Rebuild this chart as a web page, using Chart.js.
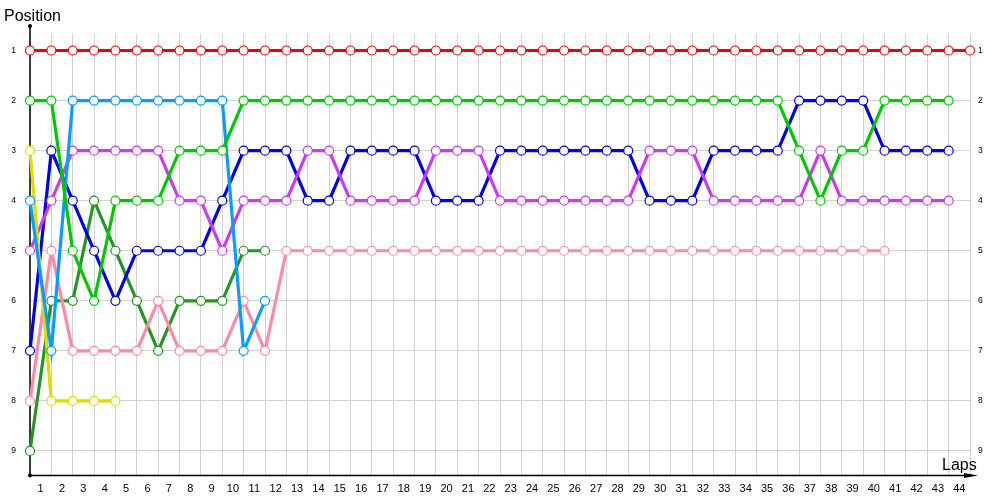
<!DOCTYPE html>
<html>
<head>
<meta charset="utf-8">
<script src="https://cdn.jsdelivr.net/npm/chart.js@4/dist/chart.umd.min.js"></script>
<style>
  html, body { margin: 0; padding: 0; background: #fff; }
  #wrap { width: 1000px; height: 500px; }
</style>
</head>
<body>
<div id="wrap"><canvas id="c" width="1000" height="500"></canvas></div>
<script>
const laps = [0,1,2,3,4,5,6,7,8,9,10,11,12,13,14,15,16,17,18,19,20,21,22,23,24,25,26,27,28,29,30,31,32,33,34,35,36,37,38,39,40,41,42,43,44];
const lapLabels = ['1','2','3','4','5','6','7','8','9','10','11','12','13','14','15','16','17','18','19','20','21','22','23','24','25','26','27','28','29','30','31','32','33','34','35','36','37','38','39','40','41','42','43','44'];
const positionTicks = [1,2,3,4,5,6,7,8,9];

const redPos = [1,1,1,1,1,1,1,1,1,1,1,1,1,1,1,1,1,1,1,1,1,1,1,1,1,1,1,1,1,1,1,1,1,1,1,1,1,1,1,1,1,1,1,1,1];
const limePos = [2,2,5,6,4,4,4,3,3,3,2,2,2,2,2,2,2,2,2,2,2,2,2,2,2,2,2,2,2,2,2,2,2,2,2,2,3,4,3,3,2,2,2,2];
const skyPos = [4,7,2,2,2,2,2,2,2,2,7,6];
const yellowPos = [3,8,8,8,8];
const purplePos = [5,4,3,3,3,3,3,4,4,5,4,4,4,3,3,4,4,4,4,3,3,3,4,4,4,4,4,4,4,3,3,3,4,4,4,4,4,3,4,4,4,4,4,4];
const bluePos = [7,3,4,5,6,5,5,5,5,4,3,3,3,4,4,3,3,3,3,4,4,4,3,3,3,3,3,3,3,4,4,4,3,3,3,3,2,2,2,2,3,3,3,3];
const pinkPos = [8,5,7,7,7,7,6,7,7,7,6,7,5,5,5,5,5,5,5,5,5,5,5,5,5,5,5,5,5,5,5,5,5,5,5,5,5,5,5,5,5];
const darkGreenPos = [9,6,6,4,5,6,7,6,6,6,5,5];

const seriesList = [
  { data: redPos, color: '#f20000' },
  { data: limePos, color: '#00c800' },
  { data: skyPos, color: '#0a9cff' },
  { data: yellowPos, color: '#dcdc00' },
  { data: purplePos, color: '#c83cf5' },
  { data: bluePos, color: '#0000e6' },
  { data: pinkPos, color: '#ff8aa8' },
  { data: darkGreenPos, color: '#259525' }
];

const datasets = seriesList.map(s => ({
  data: s.data.map((v, i) => ({ x: laps[i], y: v })),
  borderColor: s.color,
  backgroundColor: '#ffffff',
  pointBackgroundColor: '#ffffff',
  pointBorderColor: s.color,
  pointRadius: 4.5,
  pointBorderWidth: 1.2,
  pointHoverRadius: 4.5,
  borderWidth: 3.2,
  tension: 0,
  clip: false,
  xAxisID: 'x',
  yAxisID: 'y'
}));

const setTicks = (scale) => { scale.ticks = positionTicks.map(v => ({ value: v })); };

const axesPlugin = {
  id: 'axesDecor',
  beforeDatasetsDraw(chart) {
    const ctx = chart.ctx;
    const ca = chart.chartArea;
    ctx.save();
    ctx.strokeStyle = '#000';
    ctx.fillStyle = '#000';
    ctx.lineWidth = 1.5;
    ctx.beginPath();
    ctx.moveTo(ca.left, 25.5);
    ctx.lineTo(ca.left, ca.bottom);
    ctx.stroke();
    ctx.beginPath();
    ctx.moveTo(ca.left, ca.bottom - 0.5);
    ctx.lineTo(972, ca.bottom - 0.5);
    ctx.stroke();
    // arrow head
    ctx.beginPath();
    ctx.moveTo(964, ca.bottom - 3);
    ctx.lineTo(978, ca.bottom - 0.5);
    ctx.lineTo(964, ca.bottom + 2);
    ctx.closePath();
    ctx.fill();
    // dots
    ctx.beginPath();
    ctx.arc(ca.left, 26, 2, 0, Math.PI * 2);
    ctx.fill();
    ctx.beginPath();
    ctx.arc(ca.left, ca.bottom - 0.5, 2, 0, Math.PI * 2);
    ctx.fill();
    ctx.restore();
  },
  afterDraw(chart) {
    const ctx = chart.ctx;
    ctx.save();
    ctx.fillStyle = '#000';
    ctx.font = '16px "Liberation Sans", Arial, sans-serif';
    ctx.textBaseline = 'alphabetic';
    ctx.textAlign = 'left';
    ctx.fillText('Position', 4, 21);
    ctx.fillText('Laps', 942, 470);
    ctx.restore();
  }
};

const tickFont = { family: '"Liberation Sans", Arial, sans-serif', size: 11 };
const yFont = { family: '"Liberation Sans", Arial, sans-serif', size: 8.5 };

new Chart(document.getElementById('c'), {
  type: 'line',
  data: { datasets },
  options: {
    responsive: false,
    devicePixelRatio: 1,
    animation: false,
    events: [],
    layout: { padding: { top: 34, left: 0, right: 0, bottom: 0 } },
    plugins: { legend: { display: false }, tooltip: { enabled: false }, title: { display: false } },
    scales: {
      x: {
        type: 'linear',
        position: 'bottom',
        min: 0,
        max: 44,
        ticks: { display: false, stepSize: 1 },
        grid: { color: '#d2d2d2', lineWidth: 1, drawTicks: false },
        border: { display: false },
        afterFit(scale) { scale.height = 0; }
      },
      xl: {
        type: 'category',
        position: 'bottom',
        labels: lapLabels,
        offset: true,
        grid: { display: false, drawTicks: false },
        border: { display: false },
        ticks: { font: tickFont, color: '#000', padding: 6, autoSkip: false, maxRotation: 0 },
        afterFit(scale) { scale.height = 24; }
      },
      y: {
        type: 'linear',
        position: 'left',
        reverse: true,
        min: 0.67,
        max: 9.5,
        afterBuildTicks: setTicks,
        grid: { color: '#d2d2d2', lineWidth: 1, drawTicks: false },
        border: { display: false },
        ticks: { font: yFont, color: '#000', padding: 14 },
        afterFit(scale) { scale.width = 30; }
      },
      yr: {
        type: 'linear',
        position: 'right',
        reverse: true,
        min: 0.67,
        max: 9.5,
        afterBuildTicks: setTicks,
        grid: { display: false, drawTicks: false },
        border: { display: false },
        ticks: { font: yFont, color: '#000', padding: 8 },
        afterFit(scale) { scale.width = 30; }
      }
    }
  },
  plugins: [axesPlugin]
});
</script>
</body>
</html>
